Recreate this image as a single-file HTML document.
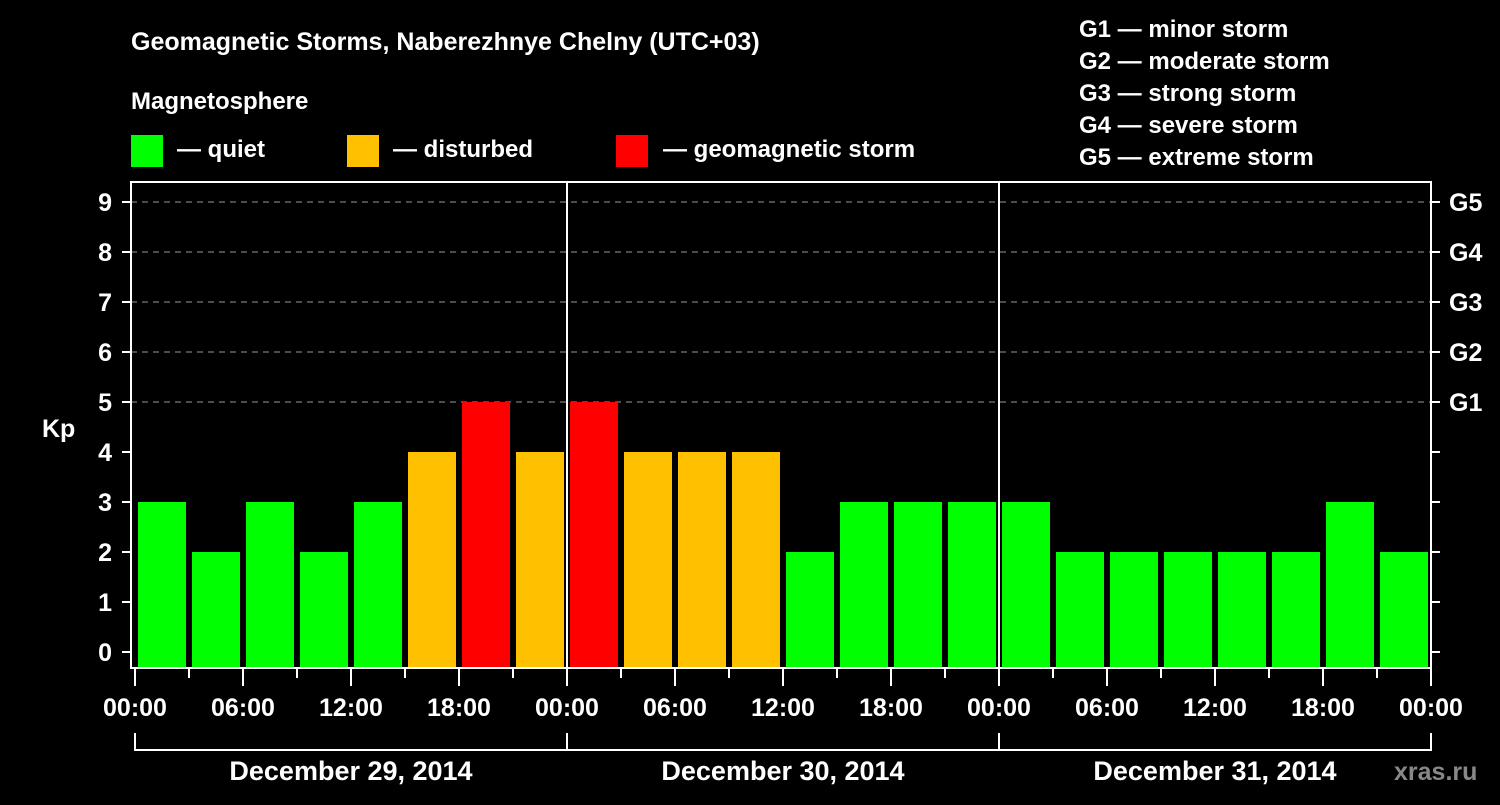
<!DOCTYPE html>
<html><head><meta charset="utf-8"><style>
body{margin:0;background:#000;width:1500px;height:800px;overflow:hidden}
svg text{font-family:"Liberation Sans",sans-serif;font-weight:bold;fill:#fff}
</style></head><body>
<svg id="c" width="1500" height="800" xmlns="http://www.w3.org/2000/svg">
<rect width="1500" height="800" fill="#000"/>
<text x="131" y="50" font-size="25">Geomagnetic Storms, Naberezhnye Chelny (UTC+03)</text>
<text x="131" y="109" font-size="24">Magnetosphere</text>
<rect x="131" y="135" width="32" height="32" fill="#00ff00"/>
<text x="177" y="157" font-size="24">— quiet</text>
<rect x="347" y="135" width="32" height="32" fill="#ffc000"/>
<text x="393" y="157" font-size="24">— disturbed</text>
<rect x="616" y="135" width="32" height="32" fill="#ff0000"/>
<text x="663" y="157" font-size="24">— geomagnetic storm</text>
<g font-size="24">
<text x="1079" y="37">G1 — minor storm</text>
<text x="1079" y="69">G2 — moderate storm</text>
<text x="1079" y="101">G3 — strong storm</text>
<text x="1079" y="133">G4 — severe storm</text>
<text x="1079" y="165">G5 — extreme storm</text>
</g>
<text x="42" y="437" font-size="25">Kp</text>
<text x="1394" y="780" font-size="25" fill="#888" style="fill:#888">xras.ru</text>
<g id="plot"></g>
</svg>
<script>
const kpValues=[3,2,3,2,3,4,5,4, 5,4,4,4,2,3,3,3, 3,2,2,2,2,2,3,2];
const dayLabels=["December 29, 2014","December 30, 2014","December 31, 2014"];
const hourLabels=["00:00","06:00","12:00","18:00"];
const gLabels=["G1","G2","G3","G4","G5"];
const NS="http://www.w3.org/2000/svg";
const g=document.getElementById('plot');
const X0=135,PX_H=18,Y0=652,PX_K=50,TOP=182,BOT=668,L=131,R=1431;
const xs=h=>X0+h*PX_H, ys=k=>Y0-k*PX_K;
function mk(t,a,p){const e=document.createElementNS(NS,t);for(const k in a)e.setAttribute(k,a[k]);(p||g).appendChild(e);return e;}
// grid
for(let k=0;k<=9;k++){
 if(k>=5){const l=mk('line',{x1:L,x2:R,y1:ys(k),y2:ys(k),stroke:'#999','stroke-dasharray':'6,5','stroke-width':1});
 
 }
 const t=mk('line',{x1:122,x2:L,y1:ys(k),y2:ys(k),stroke:'#fff','stroke-width':2});
 
 
 const t2=mk('line',{x1:R,x2:1440,y1:ys(k),y2:ys(k),stroke:'#fff','stroke-width':2});
 
 
 const tx=mk('text',{x:112,y:ys(k)+9,'font-size':25,'text-anchor':'end'});tx.textContent=k;
 
 
}
gLabels.forEach((s,i)=>{const tx=mk('text',{x:1449,y:ys(5+i)+9,'font-size':25});tx.textContent=s;
 
 });
// bars
kpValues.forEach((v,i)=>{
 const c=v>=5?'#ff0000':v>=4?'#ffc000':'#00ff00';
 const b=mk('rect',{x:xs(i*3)+3,y:ys(v),width:3*PX_H-6,height:BOT-ys(v),fill:c});
 
 
});
// frame
const fr=mk('rect',{x:L,y:TOP,width:R-L,height:BOT-TOP,fill:'none',stroke:'#fff','stroke-width':2});


for(let d=1;d<3;d++){const l=mk('line',{x1:xs(d*24),x2:xs(d*24),y1:TOP,y2:BOT,stroke:'#fff','stroke-width':2});
 
 }
// x ticks
for(let h=0;h<=72;h+=3){
 const major=h%6==0;
 const l=mk('line',{x1:xs(h),x2:xs(h),y1:BOT,y2:major?686:678,stroke:'#fff','stroke-width':2});
 
 
 if(major){const t=mk('text',{x:xs(h),y:716,'font-size':25,'text-anchor':'middle'});t.textContent=hourLabels[(h%24)/6];
 
 }
}
dayLabels.forEach((s,d)=>{
 const p=mk('path',{d:`M${xs(d*24)},733V750H${xs(d*24+24)}V733`,fill:'none',stroke:'#fff','stroke-width':2});
 
 
 const t=mk('text',{x:xs(d*24+12),y:780,'font-size':27,'text-anchor':'middle'});t.textContent=s;
 
 
});
</script>
</body></html>
